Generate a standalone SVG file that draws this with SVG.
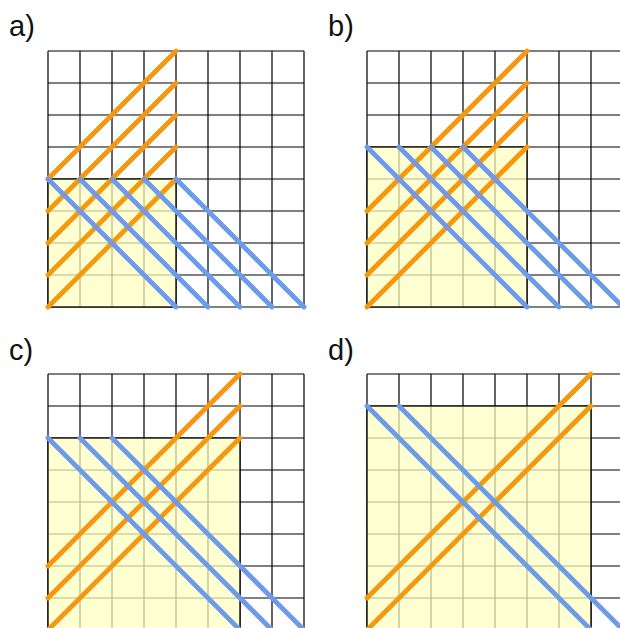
<svg xmlns="http://www.w3.org/2000/svg" xmlns:xlink="http://www.w3.org/1999/xlink" width="620" height="628" viewBox="0 0 620 628">
<style>
.lbl{font-family:"Liberation Sans",Arial,sans-serif;font-size:29px;fill:#111}
.grid{fill:none;stroke:#000;stroke-width:1.2}
.yel{fill:#ffffc0;fill-opacity:0.72;stroke:#000;stroke-width:1.2}
.or{stroke:#f5980e;stroke-width:4.8;stroke-linecap:round;fill:none}
.bl{stroke:#6d9bea;stroke-width:4.8;stroke-linecap:round;fill:none}
</style>
<defs>
<path id="grid" class="grid" d="M0,0H256M0,32H256M0,64H256M0,96H256M0,128H256M0,160H256M0,192H256M0,224H256M0,256H256M0,0V256M32,0V256M64,0V256M96,0V256M128,0V256M160,0V256M192,0V256M224,0V256M256,0V256"/>
</defs>
<rect width="620" height="628" fill="#fff"/>
<g id="panel-a" transform="translate(48,51)">
<text class="lbl" x="-39" y="-15">a)</text>
<use xlink:href="#grid"/>
<rect class="yel" x="0" y="128" width="128" height="128"/>
<g class="or">
<path d="M0,128L128,0M0,160L128,32M0,192L128,64M0,224L128,96M0,256L128,128"/>
</g>
<g class="bl">
<path d="M0,128L128,256M32,128L160,256M64,128L192,256M96,128L224,256M128,128L256,256"/>
</g>
</g>
<g id="panel-b" transform="translate(367,51)">
<text class="lbl" x="-39" y="-15">b)</text>
<use xlink:href="#grid"/>
<rect class="yel" x="0" y="96" width="160" height="160"/>
<g class="or">
<path d="M0,160L160,0M0,192L160,32M0,224L160,64M0,256L160,96"/>
</g>
<g class="bl">
<path d="M0,96L160,256M32,96L192,256M64,96L224,256M96,96L256,256"/>
</g>
</g>
<g id="panel-c" transform="translate(48,374)">
<text class="lbl" x="-39" y="-14">c)</text>
<use xlink:href="#grid"/>
<rect class="yel" x="0" y="64" width="192" height="192"/>
<g class="or">
<path d="M0,192L192,0M0,224L192,32M0,256L192,64"/>
</g>
<g class="bl">
<path d="M0,64L192,256M32,64L224,256M64,64L256,256"/>
</g>
</g>
<g id="panel-d" transform="translate(367,374)">
<text class="lbl" x="-39" y="-14">d)</text>
<use xlink:href="#grid"/>
<rect class="yel" x="0" y="32" width="224" height="224"/>
<g class="or">
<path d="M0,224L224,0M0,256L224,32"/>
</g>
<g class="bl">
<path d="M0,32L224,256M32,32L256,256"/>
</g>
</g>
</svg>
